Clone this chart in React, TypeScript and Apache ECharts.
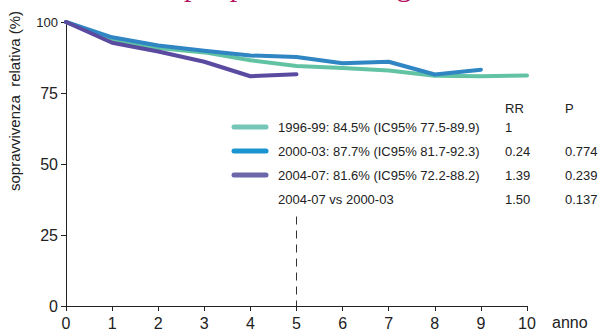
import React, { useEffect, useRef } from 'react';
import * as echarts from 'echarts';

const years = [0, 1, 2, 3, 4, 5, 6, 7, 8, 9, 10];
const surv9699 = [100, 93.5, 90.8, 89.3, 86.5, 84.5, 83.8, 82.9, 81.1, 80.9, 81.2];
const surv0003 = [100, 94.6, 91.7, 89.9, 88.2, 87.7, 85.5, 86.0, 81.5, 83.2];
const surv0407 = [100, 92.7, 89.6, 86.0, 80.9, 81.6];
const seriesNames = ['1996-99', '2000-03', '2004-07'];
const lineColors = ['#62c3a4', '#2f86c3', '#5a4aa0'];
const legendColors = ['#74c6b8', '#1a95d0', '#6c66aa'];
const legendLabels = [
  '1996-99: 84.5% (IC95% 77.5-89.9)',
  '2000-03: 87.7% (IC95% 81.7-92.3)',
  '2004-07: 81.6% (IC95% 72.2-88.2)',
  '2004-07 vs 2000-03',
];
const rrValues = ['1', '0.24', '1.39', '1.50'];
const pValues = ['', '0.774', '0.239', '0.137'];
const dashedYear = 5;
const dashedTop = 31.5;
const titleText = 'Totale per periodo di diagnosi';

const FONT = 'Liberation Sans, Arial, Helvetica, sans-serif';

export default function App() {
  const ref = useRef<HTMLDivElement>(null);
  useEffect(() => {
    if (!ref.current) return;
    const chart = echarts.init(ref.current, undefined, { renderer: 'svg' });
    const allSeries = [surv9699, surv0003, surv0407];
    const series: any[] = allSeries.map((vals, i) => ({
      name: seriesNames[i],
      type: 'line',
      data: vals.map((v, j) => [years[j], v]),
      symbol: 'none',
      lineStyle: { color: lineColors[i], width: 4, cap: 'round', join: 'round' },
      z: 2 + i,
    }));
    series[0].markLine = {
      silent: true,
      symbol: 'none',
      label: { show: false },
      lineStyle: { color: '#333', width: 1, type: [8, 6] },
      data: [[{ coord: [dashedYear, dashedTop] }, { coord: [dashedYear, 0] }]],
    };

    const graphics: any[] = [];
    const rowY = [127, 151, 175, 199];
    graphics.push({ type: 'text', x: 505, y: 108, style: { text: 'RR', font: `13px ${FONT}`, fill: '#222', verticalAlign: 'middle' } });
    graphics.push({ type: 'text', x: 565, y: 108, style: { text: 'P', font: `13px ${FONT}`, fill: '#222', verticalAlign: 'middle' } });
    legendLabels.forEach((lab, i) => {
      const y = rowY[i];
      if (i < 3) {
        graphics.push({
          type: 'line',
          shape: { x1: 234, y1: y, x2: 266, y2: y },
          style: { stroke: legendColors[i], lineWidth: 5, lineCap: 'round' },
        });
      }
      graphics.push({ type: 'text', x: 278, y, style: { text: lab, font: `13px ${FONT}`, fill: '#222', verticalAlign: 'middle' } });
      graphics.push({ type: 'text', x: 505, y, style: { text: rrValues[i], font: `13px ${FONT}`, fill: '#222', verticalAlign: 'middle' } });
      if (pValues[i]) {
        graphics.push({ type: 'text', x: 565, y, style: { text: pValues[i], font: `13px ${FONT}`, fill: '#222', verticalAlign: 'middle' } });
      }
    });
    graphics.push({
      type: 'text',
      x: 14,
      y: 101,
      rotation: Math.PI / 2,
      style: { text: 'sopravvivenza  relativa (%)', font: `15px ${FONT}`, fill: '#222', align: 'center', verticalAlign: 'middle' },
    });
    graphics.push({
      type: 'text',
      x: 102,
      y: -15,
      style: { text: titleText, font: '30px "Liberation Serif", "Times New Roman", serif', fill: '#b5135f', verticalAlign: 'middle' },
    });

    chart.setOption({
      animation: false,
      grid: { left: 66, right: 74, top: 22, bottom: 15, containLabel: false },
      xAxis: {
        type: 'value',
        min: 0,
        max: 10,
        interval: 1,
        name: 'anno',
        nameLocation: 'end',
        nameGap: 25,
        nameTextStyle: { fontFamily: FONT, fontSize: 16, color: '#222', verticalAlign: 'top', padding: [8, 0, 0, 0] },
        axisLine: { show: true, onZero: false, lineStyle: { color: '#222', width: 1 } },
        axisTick: { show: true, length: 5, lineStyle: { color: '#222' } },
        axisLabel: { fontFamily: FONT, fontSize: 16, color: '#222', margin: 9 },
        splitLine: { show: false },
      },
      yAxis: {
        type: 'value',
        min: 0,
        max: 100,
        interval: 25,
        axisLine: { show: true, lineStyle: { color: '#222', width: 1 } },
        axisTick: { show: true, length: 5, lineStyle: { color: '#222' } },
        axisLabel: {
          margin: 8,
          formatter: (v: number) => (v === 100 ? `{s|${v}}` : `{n|${v}}`),
          rich: {
            s: { fontFamily: FONT, fontSize: 13, color: '#222' },
            n: { fontFamily: FONT, fontSize: 16, color: '#222' },
          },
        },
        splitLine: { show: false },
      },
      series,
      graphic: graphics,
    });
    return () => chart.dispose();
  }, []);
  return <div ref={ref} style={{ position: 'fixed', left: 0, top: 0, width: 601, height: 331, background: '#fff' }} />;
}
